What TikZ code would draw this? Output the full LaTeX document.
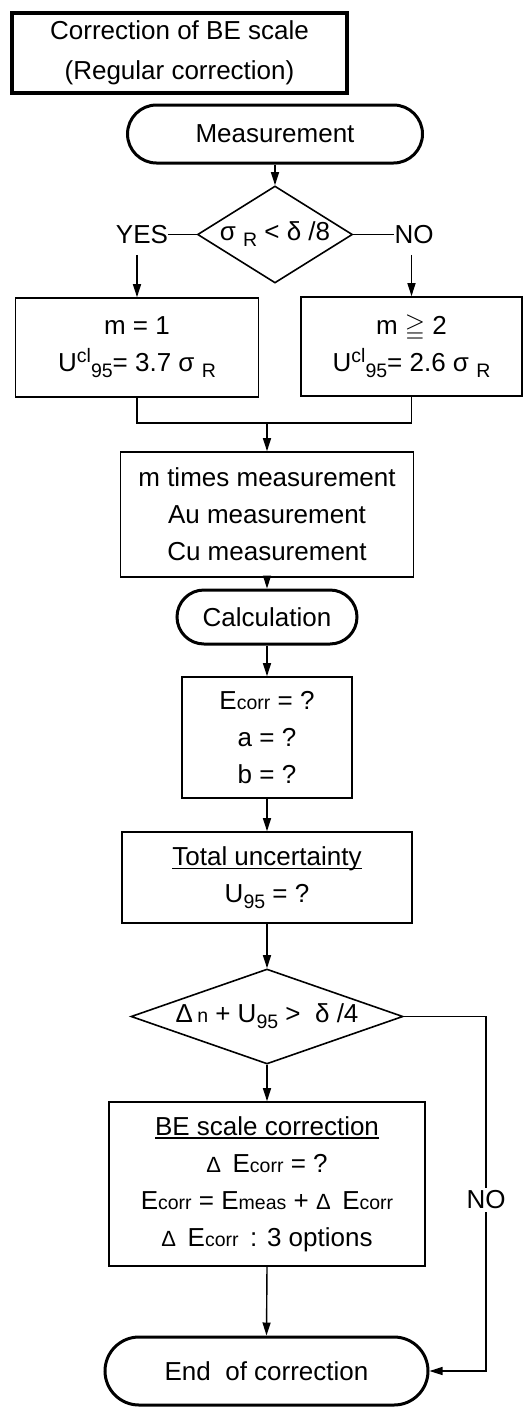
\documentclass[tikz,border=0pt]{standalone}
\usepackage{amssymb}
\usepackage{fontspec}
\setmainfont{Liberation Sans}
\usetikzlibrary{shapes.geometric,arrows.meta}
\newcommand\smt[1]{{\fontsize{19.5}{19.5}\selectfont #1}}
\newcommand\dlt{{\fontsize{22}{22}\selectfont Δ}}
\newcommand\subl[1]{\raisebox{-6pt}{\smt{#1}}}
\newcommand\supl[1]{\raisebox{9pt}{\smt{#1}}}
\newcommand\ulin[1]{\leavevmode\setbox0\hbox{#1}\rlap{\rule[-3.5pt]{\wd0}{1.3pt}}\box0}
\begin{document}
\begin{tikzpicture}[x=1pt,y=-1pt,
  every node/.style={font=\fontsize{26}{37}\selectfont, inner sep=0pt, align=center},
  box/.style={draw, line width=1.6pt, rectangle},
  term/.style={draw, line width=3pt, rectangle},
  decision/.style={draw, line width=1.6pt, diamond},
  conn/.style={line width=1.4pt},
  arr/.style={conn, -{Triangle[length=13pt,width=8pt]}},
  lbl/.style={fill=white, inner sep=3pt}
]
\useasboundingbox (0,0) rectangle (524,1408);

\node[box, line width=4pt, minimum width=335pt, minimum height=80pt, font=\fontsize{26}{40}\selectfont] (title) at (179.5,53) {Correction of BE scale\\(Regular correction)};

\node[term, minimum width=295pt, minimum height=58pt, rounded corners=29pt] (meas) at (275,134) {Measurement};

\node[decision, minimum width=155pt, minimum height=97pt, aspect=1.6] (d1) at (275,234.5) {σ \subl{R} < δ /8};

\node (yes) at (142,234.5) {YES};
\node (no) at (414,234.5) {NO};

\node[box, minimum width=243pt, minimum height=99pt] (b1) at (137,347.5) {m = 1\\U\supl{cl}\subl{95}= 3.7 σ \subl{R}};
\node[box, minimum width=221pt, minimum height=99pt] (b2) at (411.5,346.5) {m $\geqq$ 2\\U\supl{cl}\subl{95}= 2.6 σ \subl{R}};

\coordinate (j) at (267,423);

\node[box, minimum width=293pt, minimum height=125pt] (mt) at (267,514.5) {m times measurement\\Au measurement\\Cu measurement};

\node[term, minimum width=180pt, minimum height=54pt, rounded corners=27pt] (calc) at (267,617) {Calculation};

\node[box, minimum width=170pt, minimum height=121pt] (ec) at (267,737.5) {E\smt{corr} = ?\\a = ?\\b = ?};

\node[box, minimum width=290pt, minimum height=91pt] (tot) at (267,877.5) {\ulin{Total uncertainty}\\U\subl{95} = ?};

\node[decision, minimum width=272pt, minimum height=95pt, aspect=2.86] (d2) at (267,1016.5) {Δ\,\smt{n} + U\subl{95} >\ \ δ /4};

\node[box, minimum width=316pt, minimum height=164pt] (be) at (267,1184) {\ulin{BE scale correction}\\\dlt\ \,E\smt{corr} = ?\\E\smt{corr} = E\smt{meas} + \dlt\ \,E\smt{corr}\\\dlt\ \,E\smt{corr}\ \,: 3 options};

\node[term, minimum width=323pt, minimum height=68pt, rounded corners=34pt] (end) at (266.5,1371) {End\ \ of correction};

\coordinate (rr) at (486,0);

% connectors
\draw[arr] (meas.south) -- (d1.north);
\draw[conn] (d1.west) -- (yes.east);
\draw[conn] (d1.east) -- (no.west);
\draw[arr] ([yshift=-11pt]yes.south -| b1.north) -- (b1.north);
\draw[arr] ([yshift=-11pt]no.south -| b2.north) -- (b2.north);
\draw[conn] (b1.south) -- (b1.south |- j) -- (b2.south |- j) -- (b2.south);
\draw[arr] (j) -- (mt.north);
\draw[arr] (mt.south) -- (calc.north);
\draw[arr] (calc.south) -- (ec.north);
\draw[arr] (ec.south) -- (tot.north);
\draw[arr] (tot.south) -- (d2.north);
\draw[arr] (d2.south) -- (be.north);
\draw[arr] (be.south) -- (end.north);
\draw[arr] (d2.east) -- (d2.east -| rr) -- (end.east -| rr) -- (end.east);
\node[lbl] (no2) at (486,1200) {NO};
\end{tikzpicture}
\end{document}
